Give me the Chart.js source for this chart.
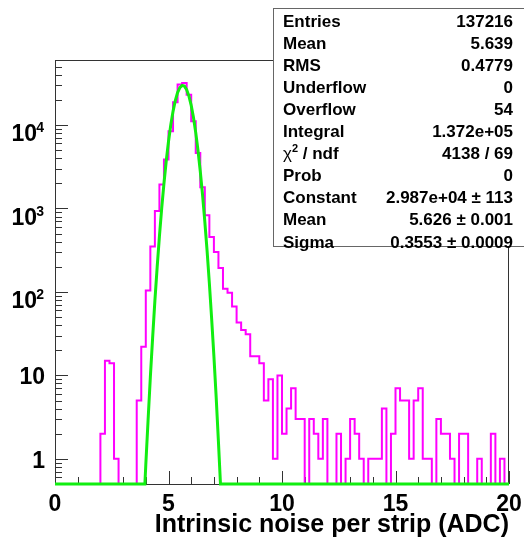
<!DOCTYPE html>
<html>
<head>
<meta charset="utf-8">
<script src="https://cdn.jsdelivr.net/npm/chart.js@4.4.1/dist/chart.umd.min.js"></script>
<style>
  html, body { margin: 0; padding: 0; background: #fff; }
  canvas { display: block; }
</style>
</head>
<body>
<canvas id="noise" width="524" height="539"></canvas>
<script>
// histogram: 100 bins of 0.2 ADC from 0 to 20
const binWidth = 0.2;
const counts = [
  0, 0, 0, 0, 0, 0, 0, 0, 0, 0,            // 0.0 - 2.0
  2, 15, 14, 1, 0, 0, 0, 0, 5, 22,         // 2.0 - 4.0
  104, 350, 930, 1930, 3850, 8400, 18700, 30500, 31900, 23000, // 4.0 - 6.0
  11100, 4600, 1800, 826, 454, 300, 193, 109, 98, 67,   // 6.0 - 8.0
  43, 35, 31, 17, 17, 14, 5, 9, 1, 10,     // 8.0 - 10.0
  2, 4, 7, 3, 3, 0, 3, 2, 1, 3,            // 10.0 - 12.0
  0, 0, 2, 0, 1, 3, 2, 1, 0, 1,            // 12.0 - 14.0
  1, 1, 4, 0, 2, 7, 5, 5, 1, 5,            // 14.0 - 16.0
  7, 1, 1, 0, 3, 2, 2, 1, 0, 2,            // 16.0 - 18.0
  2, 0, 0, 1, 0, 0, 2, 0, 1, 0             // 18.0 - 20.0
];

// gaussian fit curve (clamped to the axis minimum outside the peak)
const fitX = [0, 3.96, 4.0, 4.1, 4.2, 4.3, 4.4, 4.5, 4.6, 4.7, 4.8, 4.9, 5.0, 5.1, 5.2, 5.3, 5.4, 5.5,
  5.6, 5.7, 5.8, 5.9, 6.0, 6.1, 6.2, 6.3, 6.4, 6.5, 6.6, 6.7, 6.8, 6.9, 7.0, 7.1, 7.2, 7.29, 20];
const fitY = [0.5, 0.5, 0.85, 2.9, 9.5, 28, 78, 197, 462, 1000, 2000, 3700, 6330, 9980, 14560, 19610, 24400, 28050,
  29790, 29230, 26490, 22190, 17170, 12270, 8100, 4940, 2780, 1450, 697, 310, 127, 48, 17, 5.5, 1.6, 0.5, 0.5];

const xTicks = [0, 5, 10, 15, 20];
const yTicks = [1, 10, 100, 1000, 10000];
const yMin = 0.5;
const yMax = 60000;

const statsLabels = ['Entries', 'Mean', 'RMS', 'Underflow', 'Overflow', 'Integral', 'chi2', 'Prob', 'Constant', 'Mean', 'Sigma'];
const statsValues = ['137216', '5.639', '0.4779', '0', '54', '1.372e+05', '4138 / 69', '0', '2.987e+04 \u00b1 113', '5.626 \u00b1 0.001', '0.3553 \u00b1 0.0009'];

const xTitle = 'Intrinsic noise per strip (ADC)';

const FONT = '"Liberation Sans", Arial, Helvetica, sans-serif';

// outline points for the histogram (two per bin so it draws as steps)
const histPoints = [];
counts.forEach((c, i) => {
  const v = Math.max(c, yMin);
  histPoints.push({ x: i * binWidth, y: v });
  histPoints.push({ x: (i + 1) * binWidth, y: v });
});
const fitPoints = fitX.map((x, i) => ({ x: x, y: fitY[i] }));

// ROOT style frame, ticks and labels
const rootAxes = {
  id: 'rootAxes',
  beforeDatasetsDraw(chart) {
    const { ctx, chartArea: a, scales } = chart;
    const xs = scales.x, ys = scales.y;
    ctx.save();
    ctx.strokeStyle = '#333';
    ctx.lineWidth = 1;
    ctx.strokeRect(Math.round(a.left) + 0.5, Math.round(a.top) + 0.5, Math.round(a.right - a.left) - 1, Math.round(a.bottom - a.top));

    ctx.beginPath();
    // x ticks
    for (let v = 0; v <= 20; v++) {
      const px = Math.round(xs.getPixelForValue(v)) + 0.5;
      const len = v % 5 === 0 ? 13 : 7;
      ctx.moveTo(px, a.bottom);
      ctx.lineTo(px, a.bottom - len);
    }
    // y ticks (log, with minor ticks)
    for (let dec = -1; dec <= 4; dec++) {
      for (let m = 1; m <= 9; m++) {
        const v = m * Math.pow(10, dec);
        if (v < yMin || v > yMax) continue;
        const py = Math.round(ys.getPixelForValue(v)) + 0.5;
        const len = m === 1 ? 13 : 7;
        ctx.moveTo(a.left, py);
        ctx.lineTo(a.left + len, py);
      }
    }
    ctx.stroke();

    ctx.fillStyle = '#000';
    ctx.font = 'bold 23px ' + FONT;
    ctx.textAlign = 'center';
    ctx.textBaseline = 'alphabetic';
    xTicks.forEach(v => {
      ctx.fillText(String(v), xs.getPixelForValue(v), 511);
    });

    ctx.textAlign = 'right';
    yTicks.forEach(v => {
      const py = ys.getPixelForValue(v);
      const exp = Math.round(Math.log10(v));
      if (exp < 2) {
        ctx.font = 'bold 23px ' + FONT;
        ctx.fillText(String(v), 45, py + 9);
      } else {
        ctx.font = 'bold 14px ' + FONT;
        ctx.fillText(String(exp), 44, py + 7.5);
        ctx.font = 'bold 23px ' + FONT;
        ctx.fillText('10', 37, py + 16.5);
      }
    });

    ctx.font = 'bold 25px ' + FONT;
    ctx.textAlign = 'right';
    ctx.fillText(xTitle, a.right, 532);
    ctx.restore();
  }
};

// stats box in the top right corner
const statsBox = {
  id: 'statsBox',
  afterDraw(chart) {
    const { ctx } = chart;
    ctx.save();
    ctx.fillStyle = '#fff';
    ctx.fillRect(273.5, 8.5, 260, 238);
    ctx.strokeStyle = '#666';
    ctx.lineWidth = 1;
    ctx.strokeRect(273.5, 8.5, 260, 238);

    ctx.fillStyle = '#000';
    ctx.textBaseline = 'alphabetic';
    statsLabels.forEach((label, i) => {
      const y = 26.5 + i * 22.1;
      ctx.textAlign = 'left';
      if (label === 'chi2') {
        ctx.font = '17px ' + FONT;
        ctx.fillText('\u03c7', 283, y);
        let x = 283 + ctx.measureText('\u03c7').width;
        ctx.font = 'bold 11px ' + FONT;
        ctx.fillText('2', x, y - 7);
        x += ctx.measureText('2').width;
        ctx.font = 'bold 17px ' + FONT;
        ctx.fillText(' / ndf', x, y);
      } else {
        ctx.font = 'bold 17px ' + FONT;
        ctx.fillText(label, 283, y);
      }
      ctx.font = 'bold 17px ' + FONT;
      ctx.textAlign = 'right';
      ctx.fillText(statsValues[i], 513, y);
    });
    ctx.restore();
  }
};

const chart = new Chart(document.getElementById('noise'), {
  type: 'line',
  data: {
    datasets: [
      {
        label: 'fit',
        data: fitPoints,
        borderColor: '#11ee11',
        borderWidth: 3,
        pointRadius: 0,
        tension: 0,
        fill: false,
        clip: 4,
        order: 0
      },
      {
        label: 'noise',
        data: histPoints,
        borderColor: '#ff00ff',
        borderWidth: 2,
        pointRadius: 0,
        tension: 0,
        fill: false,
        clip: 4,
        order: 1
      }
    ]
  },
  options: {
    responsive: false,
    animation: false,
    layout: { padding: { left: 55, right: 15, top: 60, bottom: 55 } },
    scales: {
      x: { type: 'linear', min: 0, max: 20, display: false },
      y: { type: 'logarithmic', min: yMin, max: yMax, display: false }
    },
    plugins: {
      legend: { display: false },
      tooltip: { enabled: false }
    }
  },
  plugins: [rootAxes, statsBox]
});
</script>
</body>
</html>
